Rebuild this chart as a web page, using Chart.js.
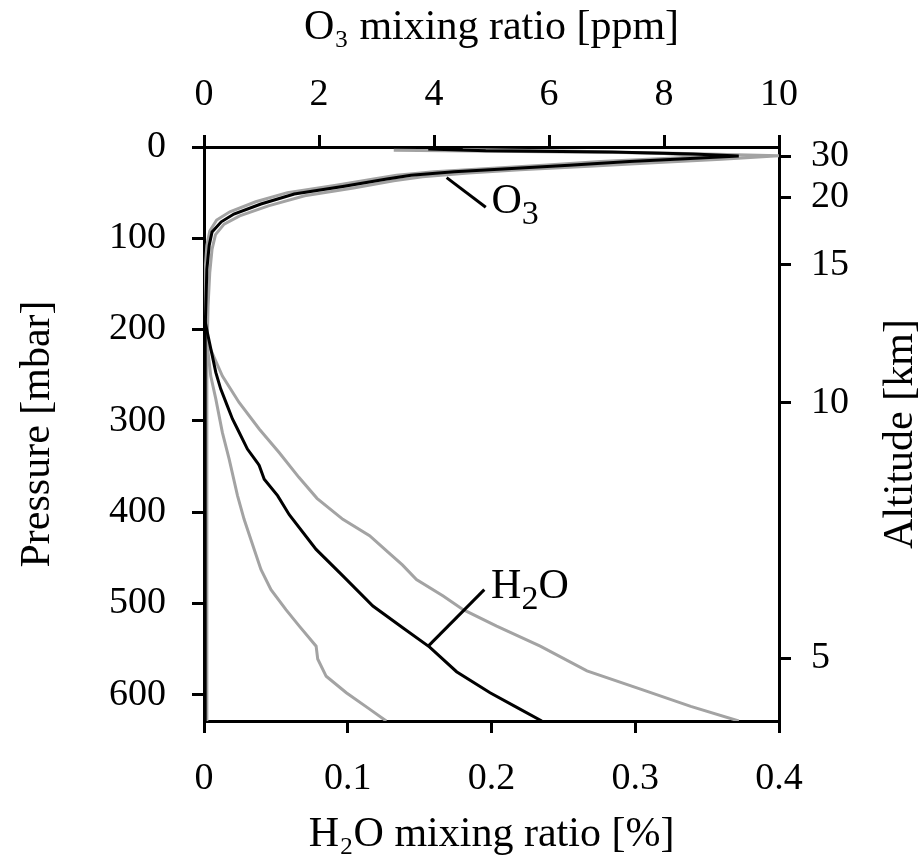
<!DOCTYPE html>
<html>
<head>
<meta charset="utf-8">
<title>O3 and H2O profiles</title>
<script src="https://cdn.jsdelivr.net/npm/chart.js@4.4.0/dist/chart.umd.min.js"></script>
<style>
    html, body { margin: 0; padding: 0; background: #fff; }
    #wrap { width: 923px; height: 867px; }
</style>
</head>
<body>
<div id="wrap"><canvas id="profile-chart" width="923" height="867"></canvas></div>
<script>
/***************************  Data  ******************************/
// O3 mixing ratio [ppm] vs pressure [mbar]
var o3MeanPpm = [3.9, 4.9, 7.1, 8.5, 9.3, 8.37, 7.4, 6.35, 5.2, 4.35, 3.6, 3.18, 2.44, 1.57, 0.99, 0.52, 0.30, 0.14, 0.09, 0.05, 0.02, 0.02];
var o3MeanP   = [2.2, 4.2, 5.5, 7.7, 9.9, 13, 16, 20, 24, 27, 31, 35, 43, 51.5, 62.5, 73.5, 82, 93, 108, 134, 200, 629];
var o3HighPpm = [3.3, 5.5, 8.0, 10.0, 9.0, 7.9, 6.7, 5.5, 4.6, 3.8, 3.3, 2.6, 1.75, 1.12, 0.62, 0.35, 0.2, 0.14, 0.1, 0.07, 0.05, 0.05];
var o3HighP   = [3.5, 4.8, 6.5, 9.5, 13.5, 17, 21, 25, 28.5, 32.5, 37, 45, 53.5, 64.5, 75.5, 84.5, 96, 112, 138, 175, 230, 629];
var o3LowPpm  = [4.5, 6.5, 8.0, 8.8, 7.9, 6.9, 5.9, 4.8, 4.0, 3.35, 2.95, 2.3, 1.45, 0.9, 0.45, 0.22, 0.1, 0.05, 0.02, 0, 0];
var o3LowP    = [2.8, 4.6, 7.2, 10.5, 13, 16, 20, 24, 27, 31, 35, 42, 50, 60, 71, 80, 92, 108, 134, 200, 629];

// H2O mixing ratio [%] vs pressure [mbar]
var h2oMeanPct = [0, 0.0023, 0.0082, 0.0116, 0.0163, 0.0198, 0.0233, 0.0302, 0.0372, 0.0384, 0.0419, 0.0512, 0.0593, 0.078, 0.0966, 0.1175, 0.1385, 0.157, 0.1757, 0.199, 0.2176, 0.235];
var h2oMeanP   = [185, 203, 247, 265, 284, 298, 309, 331, 346, 349, 364, 382, 403, 441, 470, 503, 527, 548, 575, 598, 614, 629];
var h2oHighPct = [0, 0.0035, 0.0128, 0.0244, 0.0384, 0.0524, 0.066, 0.0786, 0.0966, 0.1152, 0.128, 0.138, 0.1478, 0.1664, 0.1803, 0.2036, 0.2339, 0.2664, 0.3037, 0.3386, 0.372];
var h2oHighP   = [185, 218, 251, 280, 309, 335, 362, 385, 408, 426, 444, 458, 474, 492, 507, 525, 547, 574, 594, 613, 629];
var h2oLowPct  = [0, 0.0047, 0.0082, 0.0128, 0.0175, 0.0233, 0.0279, 0.0326, 0.0396, 0.0466, 0.057, 0.0663, 0.078, 0.0791, 0.085, 0.099, 0.1152, 0.1268];
var h2oLowP    = [185, 251, 276, 313, 342, 382, 408, 430, 463, 485, 507, 525, 547, 561, 580, 598, 616, 629];

// leader lines for the curve labels (value, pressure)
var o3LeaderPpm = [4.22, 4.9];
var o3LeaderP   = [33.5, 66];
var h2oLeaderPct = [0.156, 0.195];
var h2oLeaderP   = [547, 485];
// label anchors (left, baseline)
var o3Tag  = [5.0, 72];
var h2oTag = [0.1997, 494];

// axes
var pressureMax = 629;
var pressureTicks = [0, 100, 200, 300, 400, 500, 600];
var pressureLabels = ['0', '100', '200', '300', '400', '500', '600'];
var h2oTicks = [0, 0.1, 0.2, 0.3, 0.4];
var h2oLabels = ['0', '0.1', '0.2', '0.3', '0.4'];
var o3Ticks = [0, 2, 4, 6, 8, 10];
var o3Labels = ['0', '2', '4', '6', '8', '10'];
var altitudePressure = [10, 55, 129, 280, 560];
var altitudeLabels = ['30', '20', '15', '10', '5'];

/***************************  Helpers  ******************************/
var SERIF = '"Liberation Serif", "Times New Roman", serif';
var GREY = '#a3a3a3';

function points(xs, ps) {
    return xs.map(function(v, i) { return {x: v, y: ps[i]}; });
}

function profile(label, xs, ps, axis, color, order) {
    return {
        label: label,
        data: points(xs, ps),
        xAxisID: axis,
        yAxisID: 'y',
        borderColor: color,
        backgroundColor: color,
        borderWidth: 3,
        pointRadius: 0,
        showLine: true,
        fill: false,
        tension: 0,
        order: order
    };
}

function fixedTicks(values) {
    return function(scale) {
        scale.ticks = values.map(function(v) { return {value: v}; });
    };
}

function fixedLabels(labels) {
    return function(value, index) { return labels[index]; };
}

function outwardGrid() {
    return { display: true, drawOnChartArea: false, drawTicks: true, tickLength: 12, color: '#000', lineWidth: 3 };
}

function edge() {
    return { display: true, color: '#000', width: 3 };
}

function tickOpts(labels, pad) {
    return {
        callback: fixedLabels(labels),
        font: { family: SERIF, size: 38, lineHeight: 1 },
        color: '#000',
        padding: pad,
        autoSkip: false,
        maxRotation: 0
    };
}

function titleOpts(text, pad) {
    return {
        display: text !== '',
        text: text,
        color: '#000',
        font: { family: SERIF, size: 42, lineHeight: 1 },
        padding: pad
    };
}

// chemical formula with subscripts, parts = [[text, isSub], ...]
function drawFormula(ctx, parts, x, y) {
    parts.forEach(function(p) {
        ctx.font = (p[1] ? '34px ' : '42px ') + SERIF;
        ctx.fillText(p[0], x, p[1] ? y + 11 : y);
        x += ctx.measureText(p[0]).width;
    });
}

var labelPlugin = {
    id: 'profileLabels',
    afterDraw: function(chart) {
        var ctx = chart.ctx, area = chart.chartArea, s = chart.scales;
        ctx.save();
        ctx.fillStyle = '#000';
        ctx.textAlign = 'left';
        ctx.textBaseline = 'alphabetic';
        drawFormula(ctx, [['O', false], ['3', true]], s.x2.getPixelForValue(o3Tag[0]), s.y.getPixelForValue(o3Tag[1]));
        drawFormula(ctx, [['H', false], ['2', true], ['O', false]], s.x.getPixelForValue(h2oTag[0]), s.y.getPixelForValue(h2oTag[1]));
        // right axis title reads bottom-to-top like the left one
        ctx.translate(s.y2.right - 22, (area.top + area.bottom) / 2);
        ctx.rotate(-Math.PI / 2);
        ctx.textAlign = 'center';
        ctx.textBaseline = 'middle';
        ctx.font = '42px ' + SERIF;
        ctx.fillText('Altitude [km]', 0, 0);
        ctx.restore();
    }
};

/***************************  Chart  ******************************/
var datasets = [
    profile('O3 high', o3HighPpm, o3HighP, 'x2', GREY, 2),
    profile('O3 low', o3LowPpm, o3LowP, 'x2', GREY, 2),
    profile('H2O high', h2oHighPct, h2oHighP, 'x', GREY, 2),
    profile('H2O low', h2oLowPct, h2oLowP, 'x', GREY, 2),
    profile('O3', o3MeanPpm, o3MeanP, 'x2', '#000', 1),
    profile('H2O', h2oMeanPct, h2oMeanP, 'x', '#000', 1),
    profile('O3 leader', o3LeaderPpm, o3LeaderP, 'x2', '#000', 0),
    profile('H2O leader', h2oLeaderPct, h2oLeaderP, 'x', '#000', 0)
];

new Chart(document.getElementById('profile-chart'), {
    type: 'scatter',
    data: { datasets: datasets },
    options: {
        responsive: false,
        devicePixelRatio: 1,
        animation: false,
        events: [],
        layout: { padding: 0 },
        plugins: { legend: { display: false }, tooltip: { enabled: false } },
        scales: {
            x: {
                type: 'linear', position: 'bottom', min: 0, max: 0.4,
                afterBuildTicks: fixedTicks(h2oTicks),
                afterFit: function(scale) { scale.height = 146; },
                ticks: tickOpts(h2oLabels, 27),
                grid: outwardGrid(), border: edge(),
                title: titleOpts('H₂O mixing ratio [%]', { top: 0, bottom: 11 })
            },
            x2: {
                type: 'linear', position: 'top', min: 0, max: 10,
                afterBuildTicks: fixedTicks(o3Ticks),
                afterFit: function(scale) { scale.height = 147; },
                ticks: tickOpts(o3Labels, 21),
                grid: outwardGrid(), border: edge(),
                title: titleOpts('O₃ mixing ratio [ppm]', { top: 7, bottom: 0 })
            },
            y: {
                type: 'linear', position: 'left', min: 0, max: pressureMax, reverse: true,
                afterBuildTicks: fixedTicks(pressureTicks),
                afterFit: function(scale) { scale.width = 204; },
                ticks: tickOpts(pressureLabels, 26),
                grid: outwardGrid(), border: edge(),
                title: titleOpts('Pressure [mbar]', { top: 17, bottom: 0 })
            },
            y2: {
                type: 'linear', position: 'right', min: 0, max: pressureMax, reverse: true,
                afterBuildTicks: fixedTicks(altitudePressure),
                afterFit: function(scale) { scale.width = 144; },
                ticks: tickOpts(altitudeLabels, 20),
                grid: outwardGrid(), border: edge(),
                title: titleOpts('', 0)
            }
        }
    },
    plugins: [labelPlugin]
});
</script>
</body>
</html>
